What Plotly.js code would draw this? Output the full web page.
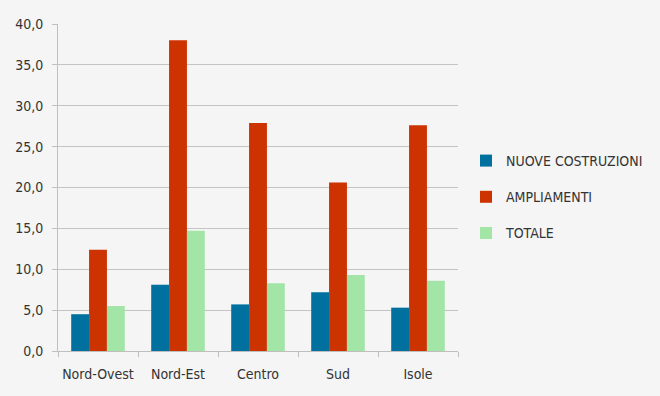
<!DOCTYPE html>
<html>
<head>
<meta charset="utf-8">
<script src="https://cdn.plot.ly/plotly-3.0.1.min.js"></script>
<style>
html,body{margin:0;padding:0;background:#f5f5f5;}
#chart{width:660px;height:396px;}
</style>
</head>
<body>
<div id="chart"></div>
<script>
const categories = ["Nord-Ovest", "Nord-Est", "Centro", "Sud", "Isole"];
const nuoveCostruzioni = [4.5, 8.1, 5.7, 7.2, 5.3];
const ampliamenti = [12.4, 38.0, 27.9, 20.6, 27.6];
const totale = [5.5, 14.7, 8.3, 9.3, 8.6];
const seriesNames = ["NUOVE COSTRUZIONI", "AMPLIAMENTI", "TOTALE"];
const yTicks = [0, 5, 10, 15, 20, 25, 30, 35, 40];

const FONT = "'DejaVu Sans Condensed', 'Liberation Sans Narrow', 'DejaVu Sans', sans-serif";
const colors = ["#00709e", "#cc3300", "#a3e4a7"];
const values = [nuoveCostruzioni, ampliamenti, totale];

const data = values.map((v, i) => ({
  type: "bar",
  x: categories,
  y: v,
  name: seriesNames[i],
  legendgroup: "g" + i,
  marker: {color: colors[i]},
  hoverinfo: "x+y+name"
}));

const layout = {
  width: 660,
  height: 396,
  paper_bgcolor: "#f5f5f5",
  plot_bgcolor: "#f5f5f5",
  separators: ",.",
  margin: {l: 58, r: 202, t: 24, b: 45, autoexpand: false},
  font: {family: FONT, size: 14, color: "#333333"},
  barmode: "group",
  bargap: 0.33,
  bargroupgap: 0,
  showlegend: true,
  legend: {
    x: 1.02, xanchor: "left",
    y: 0.63, yanchor: "top",
    traceorder: "grouped",
    tracegroupgap: 15,
    itemwidth: 30,
    font: {family: FONT, size: 14, color: "#333333"},
    bgcolor: "rgba(0,0,0,0)"
  },
  xaxis: {
    type: "category",
    automargin: false,
    tickangle: 0,
    showline: true,
    linecolor: "#bfbfbf",
    linewidth: 1,
    ticks: "outside",
    tickson: "boundaries",
    ticklen: 5,
    tickcolor: "#bfbfbf",
    ticklabelstandoff: 10,
    showgrid: false,
    tickfont: {family: FONT, size: 14, color: "#333333"}
  },
  yaxis: {
    range: [0, 40],
    automargin: false,
    tickvals: yTicks,
    tickformat: ".1f",
    showline: true,
    linecolor: "#bfbfbf",
    linewidth: 1,
    ticks: "outside",
    ticklen: 5,
    tickcolor: "#bfbfbf",
    ticklabelstandoff: 6,
    gridcolor: "#c4c4c4",
    gridwidth: 1,
    zeroline: false,
    tickfont: {family: FONT, size: 14, color: "#333333"}
  }
};

Plotly.newPlot("chart", data, layout, {displayModeBar: false, staticPlot: true});
</script>
</body>
</html>
